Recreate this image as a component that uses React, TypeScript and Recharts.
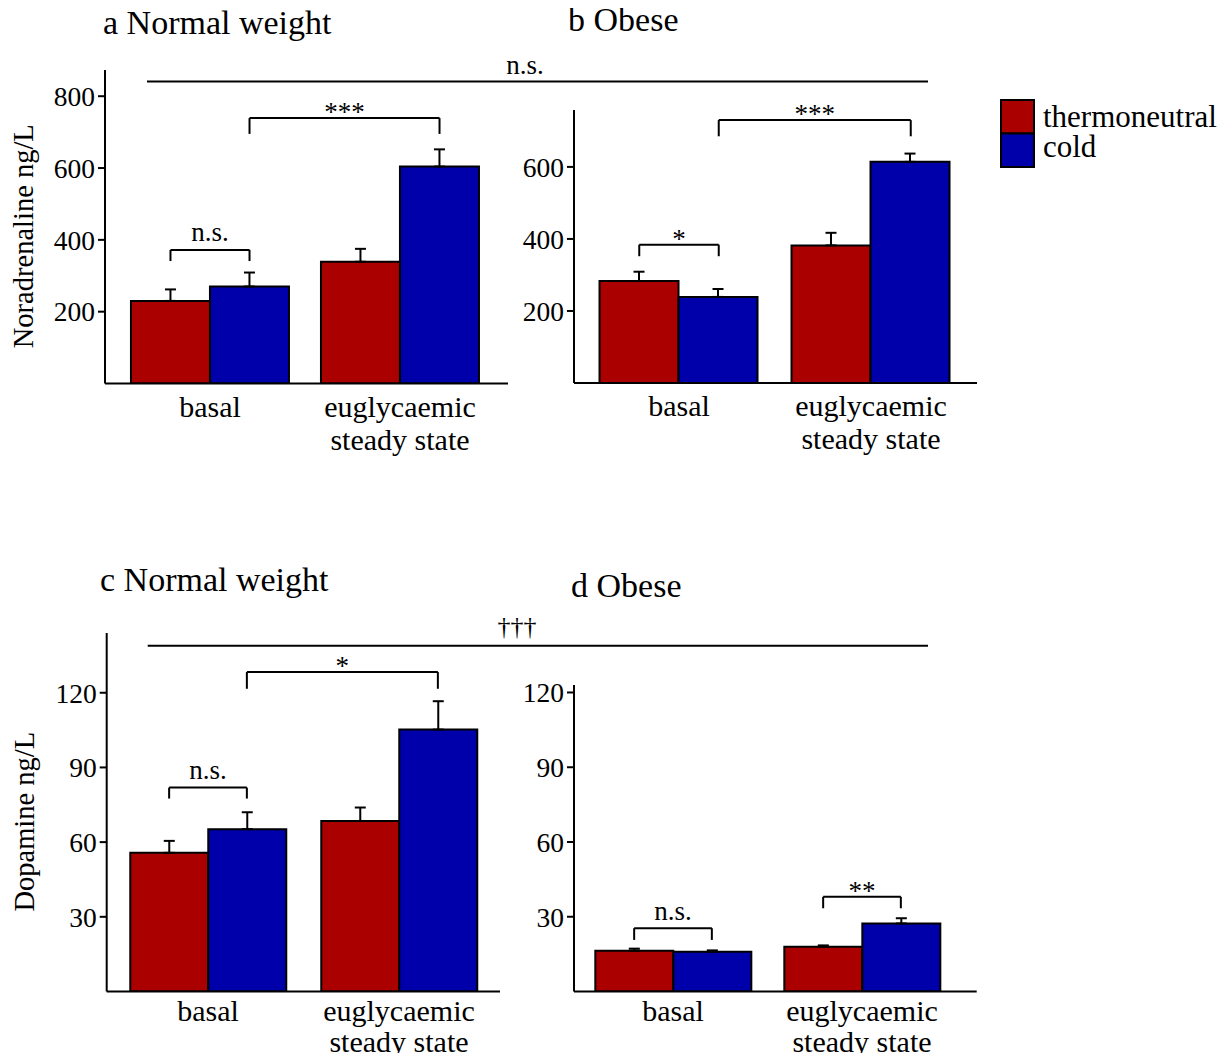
import React from 'react';
import { BarChart, Bar, XAxis, YAxis, ErrorBar, ReferenceLine, Legend } from 'recharts';

const FONT = '"Liberation Serif", "Times New Roman", Times, serif';
const RED = '#AA0000';
const BLUE = '#0000AA';

const CATEGORIES = ['basal', 'euglycaemic\nsteady state'];
const SERIES_NAMES = ['thermoneutral', 'cold'];
const SERIES_COLORS = [RED, BLUE];

// a: Noradrenaline, normal weight
const NA_NORMAL_THERMO = [230, 339];
const NA_NORMAL_THERMO_SEM = [32, 36];
const NA_NORMAL_COLD = [270, 604];
const NA_NORMAL_COLD_SEM = [39, 48];
// b: Noradrenaline, obese
const NA_OBESE_THERMO = [283, 382];
const NA_OBESE_THERMO_SEM = [26, 35];
const NA_OBESE_COLD = [239, 614];
const NA_OBESE_COLD_SEM = [22, 23];
// c: Dopamine, normal weight
const DA_NORMAL_THERMO = [55.7, 68.5];
const DA_NORMAL_THERMO_SEM = [4.8, 5.4];
const DA_NORMAL_COLD = [65.2, 105.2];
const DA_NORMAL_COLD_SEM = [6.8, 11.4];
// d: Dopamine, obese
const DA_OBESE_THERMO = [16.4, 18.0];
const DA_OBESE_THERMO_SEM = [0.8, 0.5];
const DA_OBESE_COLD = [16.0, 27.3];
const DA_OBESE_COLD_SEM = [0.5, 2.1];

const NA_TICKS_A = [200, 400, 600, 800];
const NA_TICKS_B = [200, 400, 600];
const DA_TICKS = [30, 60, 90, 120];

// significance brackets: [category index, series], bracket level and tip level in data units
const BRACKETS_A = [
  { from: [0, 'thermo'], to: [0, 'cold'], y: 372, tip: 341, label: 'n.s.' },
  { from: [0, 'cold'], to: [1, 'cold'], y: 739, tip: 695, label: '***' },
];
const BRACKETS_B = [
  { from: [0, 'thermo'], to: [0, 'cold'], y: 384, tip: 352, label: '*' },
  { from: [0, 'cold'], to: [1, 'cold'], y: 730, tip: 685, label: '***' },
];
const BRACKETS_C = [
  { from: [0, 'thermo'], to: [0, 'cold'], y: 81.9, tip: 77.5, label: 'n.s.' },
  { from: [0, 'cold'], to: [1, 'cold'], y: 128.3, tip: 121.6, label: '*' },
];
const BRACKETS_D = [
  { from: [0, 'thermo'], to: [0, 'cold'], y: 25.4, tip: 20.7, label: 'n.s.' },
  { from: [1, 'thermo'], to: [1, 'cold'], y: 38.0, tip: 33.4, label: '**' },
];

function buildRows(t: number[], tErr: number[], c: number[], cErr: number[]) {
  return CATEGORIES.map((cat, i) => ({
    cat,
    thermo: t[i],
    cold: c[i],
    thermoErr: [0, tErr[i]],
    coldErr: [0, cErr[i]],
  }));
}

const makeCatTick = (first: number, spacing: number) => (props: any) => {
  const { x, y, payload } = props;
  const lines = String(payload.value).split('\n');
  return (
    <text x={x} y={y + first} textAnchor="middle" fontSize={30} fontFamily={FONT} fill="#000">
      {lines.map((l, i) => (
        <tspan key={i} x={x} dy={i === 0 ? 0 : spacing}>
          {l}
        </tspan>
      ))}
    </text>
  );
};

const makeYLabel = (text: string) => (p: any) => {
  const vb = p.viewBox || { x: 0, y: 0, width: 0, height: 0 };
  const cx = vb.x + vb.width - 82;
  const cy = vb.y + vb.height / 2 + 9.5;
  return (
    <text
      x={cx}
      y={cy}
      transform={`rotate(-90 ${cx} ${cy})`}
      textAnchor="middle"
      dominantBaseline="central"
      fontSize={28.5}
      fontFamily={FONT}
      fill="#000"
    >
      {text}
    </text>
  );
};

const renderLegend = (props: any) => {
  const payload = [...(props.payload || [])].sort(
    (a: any, b: any) => SERIES_NAMES.indexOf(a.value) - SERIES_NAMES.indexOf(b.value)
  );
  return (
    <svg width={231} height={72}>
      {payload.map((e: any, i: number) => {
        const idx = SERIES_NAMES.indexOf(e.value);
        const color = SERIES_COLORS[idx >= 0 ? idx : i];
        return (
          <g key={i}>
            <rect x={1} y={1 + i * 33.5} width={33} height={33.5} fill={color} stroke="#000" strokeWidth={2} />
            <text x={43} y={27.5 + i * 30} fontSize={31} fontFamily={FONT} fill="#000">
              {e.value}
            </text>
          </g>
        );
      })}
    </svg>
  );
};

// position of a bar centre on the hidden [0,1] helper axis spanning the category range
function barCenter(i: number, series: string, gap: number) {
  const inBand = series === 'thermo' ? 0.25 + gap / 2 : 0.75 - gap / 2;
  return (i + inBand) / CATEGORIES.length;
}

function bracketElements(brackets: any[], gap: number, key: string) {
  const els: any[] = [];
  brackets.forEach((b, k) => {
    const x1 = barCenter(b.from[0], b.from[1], gap);
    const x2 = barCenter(b.to[0], b.to[1], gap);
    const isStar = b.label.indexOf('*') >= 0;
    const common = { xAxisId: 'n', stroke: '#000', strokeWidth: 2, ifOverflow: 'visible' as const };
    els.push(
      <ReferenceLine key={`${key}-${k}-l`} {...common} segment={[{ x: x1, y: b.tip }, { x: x1, y: b.y }]} />,
      <ReferenceLine key={`${key}-${k}-r`} {...common} segment={[{ x: x2, y: b.tip }, { x: x2, y: b.y }]} />,
      <ReferenceLine
        key={`${key}-${k}-h`}
        {...common}
        segment={[{ x: x1, y: b.y }, { x: x2, y: b.y }]}
        label={{
          value: b.label,
          position: 'top',
          offset: isStar ? -3 : 8.5,
          fontSize: 27,
          fill: '#000',
          fontFamily: FONT,
        }}
      />
    );
  });
  return els;
}

type PanelCfg = {
  left: number;
  top: number;
  width: number;
  height: number;
  margin: { top: number; right: number; bottom: number; left: number };
  xHeight: number;
  padding: { left: number; right: number };
  gap: number;
  domainMax: number;
  ticks: number[];
  yLabel?: string;
  rows: any[];
  brackets: any[];
  legend?: boolean;
  id: string;
  tickFirst: number;
  tickSpacing: number;
};

function Panel({ cfg }: { cfg: PanelCfg }) {
  return (
    <div style={{ position: 'absolute', left: cfg.left, top: cfg.top }}>
      <BarChart
        width={cfg.width}
        height={cfg.height}
        data={cfg.rows}
        margin={cfg.margin}
        barCategoryGap={`${cfg.gap * 100}%`}
        barGap={0}
      >
        <XAxis
          dataKey="cat"
          tickLine={false}
          axisLine={{ stroke: '#000', strokeWidth: 2 }}
          tick={makeCatTick(cfg.tickFirst, cfg.tickSpacing)}
          height={cfg.xHeight}
          interval={0}
          padding={cfg.padding}
        />
        <XAxis xAxisId="n" type="number" domain={[0, 1]} hide padding={cfg.padding} allowDataOverflow />
        <YAxis
          domain={[0, cfg.domainMax]}
          ticks={cfg.ticks}
          allowDataOverflow
          width={60}
          tickSize={7}
          tickMargin={3}
          axisLine={{ stroke: '#000', strokeWidth: 2 }}
          tickLine={{ stroke: '#000', strokeWidth: 2 }}
          tick={{ fill: '#000', fontSize: 27.5, fontFamily: FONT }}
          label={cfg.yLabel ? { value: cfg.yLabel, content: makeYLabel(cfg.yLabel) } : undefined}
        />
        <Bar dataKey="thermo" name={SERIES_NAMES[0]} fill={RED} stroke="#000" strokeWidth={2} isAnimationActive={false}>
          <ErrorBar dataKey="thermoErr" width={5.5} stroke="#000" strokeWidth={2} direction="y" isAnimationActive={false} />
        </Bar>
        <Bar dataKey="cold" name={SERIES_NAMES[1]} fill={BLUE} stroke="#000" strokeWidth={2} isAnimationActive={false}>
          <ErrorBar dataKey="coldErr" width={5.5} stroke="#000" strokeWidth={2} direction="y" isAnimationActive={false} />
        </Bar>
        {bracketElements(cfg.brackets, cfg.gap, cfg.id)}
        {cfg.legend && (
          <Legend
            layout="vertical"
            align="center"
            verticalAlign="middle"
            content={renderLegend}
            wrapperStyle={{ left: 500, top: 99, width: 231 }}
          />
        )}
      </BarChart>
    </div>
  );
}

const PANELS: PanelCfg[] = [
  {
    id: 'a',
    left: 0,
    top: 0,
    width: 520,
    height: 470,
    margin: { top: 70, right: 12, bottom: 6.5, left: 45 },
    xHeight: 80,
    padding: { left: 10, right: 13 },
    gap: 0.084,
    domainMax: 873,
    ticks: NA_TICKS_A,
    yLabel: 'Noradrenaline ng/L',
    rows: buildRows(NA_NORMAL_THERMO, NA_NORMAL_THERMO_SEM, NA_NORMAL_COLD, NA_NORMAL_COLD_SEM),
    brackets: BRACKETS_A,
    tickFirst: 25,
    tickSpacing: 33,
  },
  {
    id: 'b',
    left: 500,
    top: 0,
    width: 731,
    height: 470,
    margin: { top: 110, right: 254, bottom: 7, left: 14 },
    xHeight: 80,
    padding: { left: 9, right: 10 },
    gap: 0.086,
    domainMax: 758,
    ticks: NA_TICKS_B,
    rows: buildRows(NA_OBESE_THERMO, NA_OBESE_THERMO_SEM, NA_OBESE_COLD, NA_OBESE_COLD_SEM),
    brackets: BRACKETS_B,
    legend: true,
    tickFirst: 25,
    tickSpacing: 33,
  },
  {
    id: 'c',
    left: 0,
    top: 540,
    width: 520,
    height: 521,
    margin: { top: 93, right: 20, bottom: 3.5, left: 46.7 },
    xHeight: 66,
    padding: { left: 5.8, right: 5.5 },
    gap: 0.093,
    domainMax: 144,
    ticks: DA_TICKS,
    yLabel: 'Dopamine ng/L',
    rows: buildRows(DA_NORMAL_THERMO, DA_NORMAL_THERMO_SEM, DA_NORMAL_COLD, DA_NORMAL_COLD_SEM),
    brackets: BRACKETS_C,
    tickFirst: 21.5,
    tickSpacing: 31,
  },
  {
    id: 'd',
    left: 500,
    top: 540,
    width: 731,
    height: 521,
    margin: { top: 145, right: 254.3, bottom: 3.5, left: 14 },
    xHeight: 66,
    padding: { left: 4.5, right: 20.2 },
    gap: 0.089,
    domainMax: 123,
    ticks: DA_TICKS,
    rows: buildRows(DA_OBESE_THERMO, DA_OBESE_THERMO_SEM, DA_OBESE_COLD, DA_OBESE_COLD_SEM),
    brackets: BRACKETS_D,
    tickFirst: 21.5,
    tickSpacing: 31,
  },
];

export default function App() {
  return (
    <div
      style={{
        position: 'relative',
        width: 1231,
        height: 1061,
        margin: -8,
        background: '#fff',
        overflow: 'hidden',
        fontFamily: FONT,
      }}
    >
      {PANELS.map((p) => (
        <Panel key={p.id} cfg={p} />
      ))}
      <svg
        width={1231}
        height={1061}
        style={{ position: 'absolute', left: 0, top: 0, pointerEvents: 'none' }}
      >
        <g fontFamily={FONT} fill="#000">
          <text x={103} y={34} fontSize={34}>a Normal weight</text>
          <text x={568} y={31} fontSize={34}>b Obese</text>
          <text x={100} y={591} fontSize={34}>c Normal weight</text>
          <text x={571} y={597} fontSize={34}>d Obese</text>
          <text x={525} y={74} fontSize={27} textAnchor="middle">n.s.</text>
          <text x={517} y={635} fontSize={26} textAnchor="middle">†††</text>
        </g>
        <line x1={147} x2={928} y1={81.5} y2={81.5} stroke="#000" strokeWidth={2} />
        <line x1={147.7} x2={928} y1={645.7} y2={645.7} stroke="#000" strokeWidth={2} />
      </svg>
    </div>
  );
}
